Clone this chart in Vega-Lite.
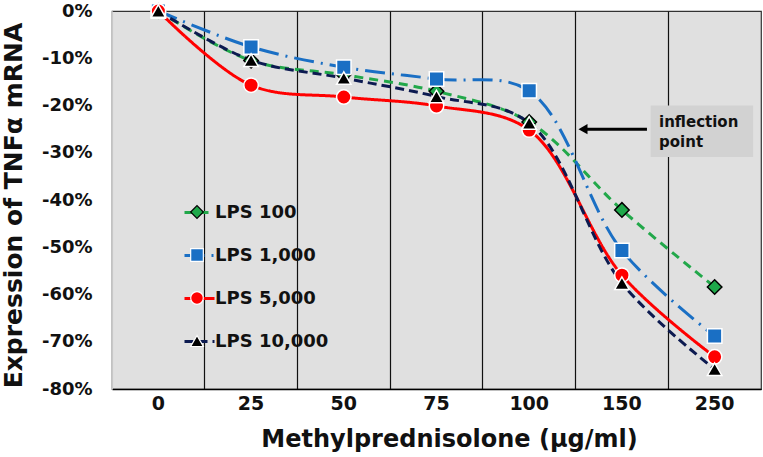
{
  "$schema": "https://vega.github.io/schema/vega-lite/v6.json",
  "description": "Expression of TNFa mRNA vs methylprednisolone dose for four LPS levels.",
  "width": 649,
  "height": 378,
  "autosize": "none",
  "padding": {"left": 112, "top": 11, "right": 2, "bottom": 68},
  "config": {
    "font": "DejaVu Sans",
    "view": {"fill": "#E0E0E0", "stroke": "#333333", "strokeWidth": 1.2}
  },
  "datasets": {
    "tnf": [
      {"dose": 0, "series": "LPS 100", "value": 0},
      {"dose": 25, "series": "LPS 100", "value": -0.105},
      {"dose": 50, "series": "LPS 100", "value": -0.135},
      {"dose": 75, "series": "LPS 100", "value": -0.17},
      {"dose": 100, "series": "LPS 100", "value": -0.235},
      {"dose": 150, "series": "LPS 100", "value": -0.421},
      {"dose": 250, "series": "LPS 100", "value": -0.584},
      {"dose": 0, "series": "LPS 1,000", "value": 0},
      {"dose": 25, "series": "LPS 1,000", "value": -0.076},
      {"dose": 50, "series": "LPS 1,000", "value": -0.119},
      {"dose": 75, "series": "LPS 1,000", "value": -0.144},
      {"dose": 100, "series": "LPS 1,000", "value": -0.169},
      {"dose": 150, "series": "LPS 1,000", "value": -0.507},
      {"dose": 250, "series": "LPS 1,000", "value": -0.688},
      {"dose": 0, "series": "LPS 5,000", "value": 0},
      {"dose": 25, "series": "LPS 5,000", "value": -0.157},
      {"dose": 50, "series": "LPS 5,000", "value": -0.182},
      {"dose": 75, "series": "LPS 5,000", "value": -0.201},
      {"dose": 100, "series": "LPS 5,000", "value": -0.252},
      {"dose": 150, "series": "LPS 5,000", "value": -0.559},
      {"dose": 250, "series": "LPS 5,000", "value": -0.732},
      {"dose": 0, "series": "LPS 10,000", "value": 0},
      {"dose": 25, "series": "LPS 10,000", "value": -0.104},
      {"dose": 50, "series": "LPS 10,000", "value": -0.142},
      {"dose": 75, "series": "LPS 10,000", "value": -0.181},
      {"dose": 100, "series": "LPS 10,000", "value": -0.237},
      {"dose": 150, "series": "LPS 10,000", "value": -0.576},
      {"dose": 250, "series": "LPS 10,000", "value": -0.758}
    ],
    "note": [
      {"label": "inflection point"}
    ]
  },
  "layer": [
    {
      "data": {"name": "tnf"},
      "mark": {"type": "line", "interpolate": "catmull-rom", "strokeWidth": 3},
      "encoding": {
        "x": {
          "field": "dose",
          "type": "ordinal",
          "scale": {"type": "band", "paddingInner": 0, "paddingOuter": 0},
          "axis": {
            "title": "Methylprednisolone (μg/ml)",
            "titleFontSize": 24,
            "titleFontWeight": "bold",
            "titleColor": "#111",
            "titleX": 337,
            "titleY": 38,
            "titleBaseline": "top",
            "labelAngle": 0,
            "labelFontSize": 19,
            "labelFontWeight": "bold",
            "labelColor": "#111",
            "labelPadding": 5,
            "ticks": false,
            "domainColor": "#000",
            "domainWidth": 1.5,
            "grid": true,
            "bandPosition": 0,
            "gridColor": {"condition": {"test": "datum.value === 0", "value": "#C8C8C8"}, "value": "#111"},
            "gridWidth": 1.2,
            "gridOpacity": 1
          }
        },
        "y": {
          "field": "value",
          "type": "quantitative",
          "scale": {"domain": [-0.8, 0], "nice": false},
          "axis": {
            "title": "Expression of TNFα mRNA",
            "titleFontSize": 25,
            "titleFontWeight": "bold",
            "titleColor": "#111",
            "titlePadding": 15,
            "titleY": 194,
            "values": [0, -0.1, -0.2, -0.3, -0.4, -0.5, -0.6, -0.7, -0.8],
            "labelExpr": "round(datum.value * 100) + '%'",
            "labelFontSize": 18,
            "labelFontWeight": "bold",
            "labelColor": "#111",
            "labelPadding": 20,
            "ticks": false,
            "domainColor": "#C8C8C8",
            "grid": false
          }
        },
        "stroke": {
          "field": "series",
          "type": "nominal",
          "scale": {
            "domain": ["LPS 100", "LPS 1,000", "LPS 5,000", "LPS 10,000"],
            "range": ["#22A84A", "#1A6FC4", "#FF0000", "#0C1A50"]
          },
          "legend": {
            "orient": "none",
            "legendX": 71,
            "legendY": 185,
            "title": null,
            "padding": 0,
            "symbolType": "stroke",
            "symbolSize": 900,
            "symbolStrokeWidth": 3,
            "labelFontSize": 18,
            "labelFontWeight": "bold",
            "labelColor": "#111",
            "labelOffset": -1,
            "rowPadding": 17
          }
        },
        "strokeDash": {
          "field": "series",
          "type": "nominal",
          "scale": {
            "domain": ["LPS 100", "LPS 1,000", "LPS 5,000", "LPS 10,000"],
            "range": [[9, 6], [20, 7, 2, 7], [1, 0], [9, 5]]
          }
        }
      }
    },
    {
      "data": {"name": "tnf"},
      "mark": {"type": "point", "filled": true, "opacity": 1, "size": 210, "strokeWidth": 1.5},
      "encoding": {
        "x": {"field": "dose", "type": "ordinal"},
        "y": {"field": "value", "type": "quantitative"},
        "fill": {
          "field": "series",
          "type": "nominal",
          "sort": ["LPS 100", "LPS 1,000", "LPS 5,000", "LPS 10,000"],
          "scale": {"range": ["#1EA84A", "#1A6FC4", "#FF0000", "#000000"]},
          "legend": {
            "orient": "none",
            "legendX": 72,
            "legendY": 188,
            "title": null,
            "padding": 0,
            "symbolSize": 160,
            "symbolStrokeWidth": 1.2,
            "symbolType": {"expr": "datum.value === 'LPS 100' ? 'diamond' : datum.value === 'LPS 1,000' ? 'square' : datum.value === 'LPS 5,000' ? 'circle' : 'triangle-up'"},
            "symbolStrokeColor": {"expr": "datum.value === 'LPS 100' ? '#000000' : '#FFFFFF'"},
            "labelFontSize": 26,
            "labelExpr": "' '",
            "rowPadding": 17
          }
        },
        "shape": {
          "field": "series",
          "type": "nominal",
          "sort": ["LPS 100", "LPS 1,000", "LPS 5,000", "LPS 10,000"],
          "scale": {"range": ["diamond", "square", "circle", "triangle-up"]},
          "legend": null
        },
        "stroke": {
          "condition": {"test": "datum.series === 'LPS 100'", "value": "#000000"},
          "value": "#FFFFFF"
        }
      }
    },
    {
      "data": {"name": "note"},
      "mark": {"type": "rect", "color": "#D2D2D2"},
      "encoding": {
        "x": {"datum": 150, "type": "ordinal", "bandPosition": 0.81},
        "x2": {"datum": 250, "bandPosition": 0.915},
        "y": {"datum": -0.2, "type": "quantitative"},
        "y2": {"datum": -0.309}
      }
    },
    {
      "data": {"name": "note"},
      "mark": {"type": "rule", "color": "#000", "strokeWidth": 3},
      "encoding": {
        "x": {"datum": 150, "type": "ordinal", "bandPosition": 0.77},
        "x2": {"datum": 150, "bandPosition": 0.1},
        "y": {"datum": -0.25, "type": "quantitative"}
      }
    },
    {
      "data": {"name": "note"},
      "mark": {"type": "point", "shape": "triangle-left", "filled": true, "color": "#000", "opacity": 1, "size": 110},
      "encoding": {
        "x": {"datum": 150, "type": "ordinal", "bandPosition": 0.08},
        "y": {"datum": -0.25, "type": "quantitative"}
      }
    },
    {
      "data": {"name": "note"},
      "mark": {"type": "text", "align": "left", "baseline": "middle", "fontSize": 15, "fontWeight": "bold", "color": "#111", "lineHeight": 20},
      "encoding": {
        "x": {"datum": 150, "type": "ordinal", "bandPosition": 0.9},
        "y": {"datum": -0.234, "type": "quantitative"},
        "text": {"value": ["inflection", "point"]}
      }
    }
  ]
}
